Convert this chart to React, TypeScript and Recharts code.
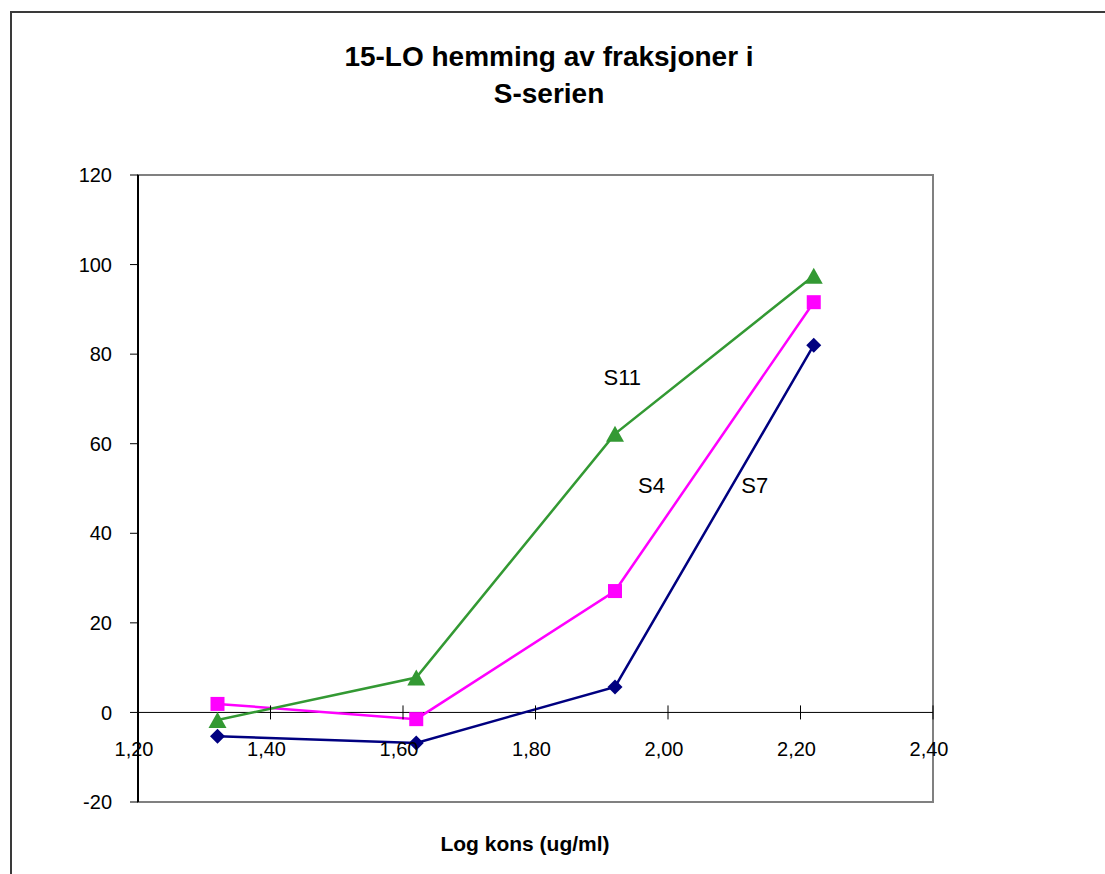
import React from 'react';
import { LineChart, Line, XAxis, YAxis, ReferenceArea, ReferenceLine, ReferenceDot } from 'recharts';

// Log concentration (ug/ml) of each fraction dilution
const LOG_KONS = [1.32, 1.62, 1.92, 2.22];

// % 15-LO inhibition per fraction
const S7 = [-5.3, -6.8, 5.7, 82.0];
const S4 = [1.9, -1.5, 27.1, 91.6];
const S11 = [-1.7, 7.8, 62.2, 97.5];

const X_TICKS = [1.2, 1.4, 1.6, 1.8, 2.0, 2.2, 2.4];
const Y_TICKS = [-20, 0, 20, 40, 60, 80, 100, 120];

// Series name tags placed in data coordinates
const SERIES_TAGS = [
  { name: 'S11', x: 1.931, y: 74.8 },
  { name: 'S4', x: 1.975, y: 50.7 },
  { name: 'S7', x: 2.131, y: 50.7 },
];

const data = LOG_KONS.map((x, i) => ({ x, s7: S7[i], s4: S4[i], s11: S11[i] }));

const FONT = "'Liberation Sans', Arial, Helvetica, sans-serif";
const W = 1105;
const H = 874;
const MARGIN = { top: 175, right: 172, bottom: 0, left: 0 };
const X_AXIS_H = 72;
const Y_AXIS_W = 138;
const PLOT_H = H - MARGIN.top - MARGIN.bottom - X_AXIS_H;
const Y_MIN = -20;
const Y_MAX = 120;

const fmt = (v: number) => v.toFixed(2).replace('.', ',');

// X ticks sit on the zero line rather than the bottom of the plot
const XTick = (props: any) => {
  const { x, y, payload } = props;
  const zeroY = y - (PLOT_H * (0 - Y_MIN)) / (Y_MAX - Y_MIN);
  return (
    <g>
      <line x1={x} x2={x} y1={zeroY - 7} y2={zeroY + 7} stroke="#000" strokeWidth={1} />
      <text x={x - 4} y={zeroY + 44} textAnchor="middle" fontSize={20} fontFamily={FONT} fill="#000">
        {fmt(payload.value)}
      </text>
    </g>
  );
};

const diamondDot = (color: string, s: number) => (props: any) => {
  const { cx, cy, index } = props;
  if (cx == null || cy == null) return <g key={`dd-${index}`} />;
  return (
    <path
      key={`dd-${index}`}
      d={`M${cx},${cy - s} L${cx + s},${cy} L${cx},${cy + s} L${cx - s},${cy} Z`}
      fill={color}
    />
  );
};

const squareDot = (color: string, s: number) => (props: any) => {
  const { cx, cy, index } = props;
  if (cx == null || cy == null) return <g key={`sq-${index}`} />;
  return <rect key={`sq-${index}`} x={cx - s} y={cy - s} width={2 * s} height={2 * s} fill={color} />;
};

const triangleDot = (color: string, w: number, h: number) => (props: any) => {
  const { cx, cy, index } = props;
  if (cx == null || cy == null) return <g key={`tr-${index}`} />;
  return (
    <path
      key={`tr-${index}`}
      d={`M${cx},${cy - h / 2} L${cx + w / 2},${cy + h / 2} L${cx - w / 2},${cy + h / 2} Z`}
      fill={color}
    />
  );
};

export default function App() {
  return (
    <div
      style={{
        position: 'absolute',
        left: 0,
        top: 0,
        width: W,
        height: H,
        overflow: 'hidden',
        background: '#fff',
        fontFamily: FONT,
      }}
    >
      <div
        style={{
          position: 'absolute',
          left: 10,
          top: 11,
          width: 1300,
          height: 1100,
          border: '2px solid #3a3a3a',
          boxSizing: 'border-box',
        }}
      />
      <div
        style={{
          position: 'absolute',
          left: 249,
          top: 38,
          width: 600,
          textAlign: 'center',
          fontSize: 28,
          fontWeight: 'bold',
          lineHeight: '37px',
          color: '#000',
        }}
      >
        15-LO hemming av fraksjoner i
        <br />
        S-serien
      </div>
      <div style={{ position: 'absolute', left: 0, top: 0 }}>
        <LineChart width={W} height={H} data={data} margin={MARGIN}>
          <ReferenceArea
            x1={1.2}
            x2={2.4}
            y1={-20}
            y2={120}
            fill="none"
            stroke="#808080"
            strokeWidth={2}
            ifOverflow="visible"
          />
          <XAxis
            type="number"
            dataKey="x"
            domain={[1.2, 2.4]}
            ticks={X_TICKS}
            interval={0}
            height={X_AXIS_H}
            axisLine={false}
            tickLine={false}
            tickSize={0}
            tickMargin={0}
            tick={<XTick />}
          />
          <YAxis
            type="number"
            domain={[Y_MIN, Y_MAX]}
            ticks={Y_TICKS}
            interval={0}
            width={Y_AXIS_W}
            axisLine={{ stroke: '#000', strokeWidth: 2 }}
            tickLine={{ stroke: '#000', strokeWidth: 1 }}
            tickSize={8}
            tickMargin={18}
            tick={{ fill: '#000', fontSize: 20, fontFamily: FONT }}
          />
          <ReferenceLine y={0} stroke="#000" strokeWidth={1} />
          <Line
            dataKey="s7"
            stroke="#000080"
            strokeWidth={2.5}
            dot={diamondDot('#000080', 7.5)}
            isAnimationActive={false}
          />
          <Line
            dataKey="s4"
            stroke="#FF00FF"
            strokeWidth={2.5}
            dot={squareDot('#FF00FF', 7)}
            isAnimationActive={false}
          />
          <Line
            dataKey="s11"
            stroke="#339933"
            strokeWidth={2.5}
            dot={triangleDot('#339933', 18, 16)}
            isAnimationActive={false}
          />
          {SERIES_TAGS.map((t) => (
            <ReferenceDot
              key={t.name}
              x={t.x}
              y={t.y}
              r={1}
              fill="none"
              stroke="none"
              label={{ value: t.name, position: 'center', fontSize: 22, fill: '#000', fontFamily: FONT }}
            />
          ))}
        </LineChart>
      </div>
      <div
        style={{
          position: 'absolute',
          left: 325,
          top: 832,
          width: 400,
          textAlign: 'center',
          fontSize: 21,
          fontWeight: 'bold',
          lineHeight: '24px',
          color: '#000',
        }}
      >
        Log kons (ug/ml)
      </div>
    </div>
  );
}
